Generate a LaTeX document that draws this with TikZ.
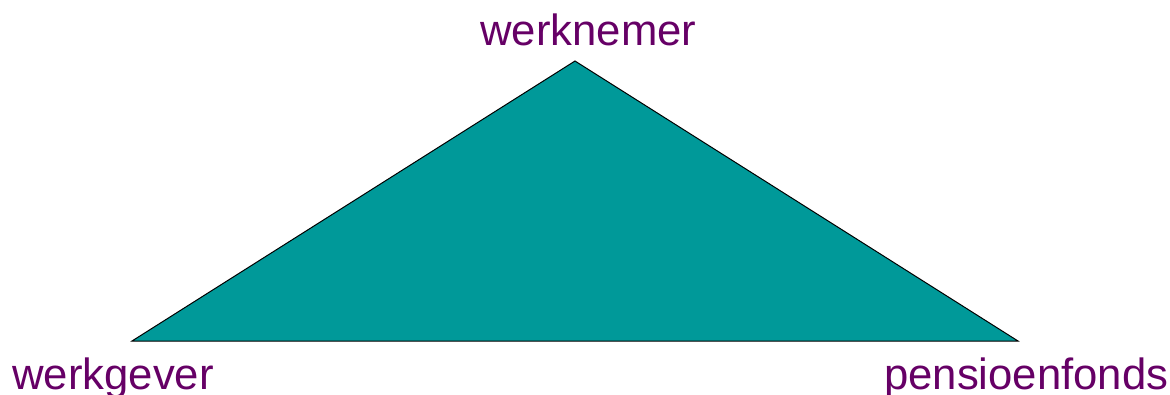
\documentclass[tikz,border=0pt]{standalone}
\usepackage{fontspec}
\setmainfont{Liberation Sans}
\definecolor{teal1}{HTML}{009999}
\definecolor{purp}{HTML}{660066}
\begin{document}
\begin{tikzpicture}[x=1pt,y=-1pt,
  lbl/.style={text=purp,font=\fontsize{43.7}{50}\selectfont,inner sep=0pt,anchor=base west}]
\useasboundingbox (0,0) rectangle (1170,394);
\coordinate (top) at (575,61);
\coordinate (bl) at (132,341);
\coordinate (br) at (1018,341);
\filldraw[fill=teal1,draw=black,line width=1pt,line join=miter] (top) -- (bl) -- (br) -- cycle;
\node[lbl] (n1) at (480,45) {werknemer};
\node[lbl] (n2) at (12,389) {werkgever};
\node[lbl] (n3) at (884,389) {pensioenfonds};
\end{tikzpicture}
\end{document}
